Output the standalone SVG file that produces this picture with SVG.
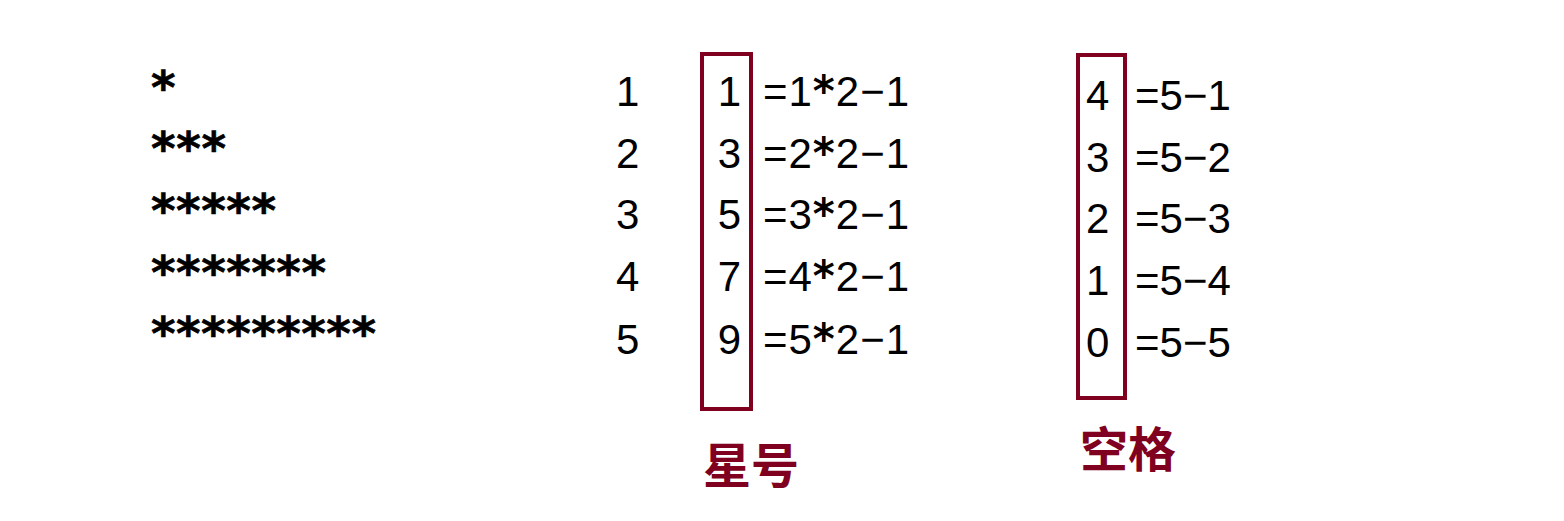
<svg xmlns="http://www.w3.org/2000/svg" width="1564" height="521" viewBox="0 0 1564 521">
<style>
.star{font-family:"DejaVu Sans",sans-serif;font-weight:bold;font-size:47px;fill:#000;stroke:#000;stroke-width:0.6}
.num{font-family:"Liberation Sans",Arial,sans-serif;font-size:42px;fill:#000}
.ast{font-family:"DejaVu Sans",sans-serif;font-weight:bold;font-size:42px}
.box{fill:none;stroke:#800020;stroke-width:4}
.lbl{font-family:"Noto Sans CJK SC",sans-serif;font-weight:bold;font-size:48px;fill:#800020}
</style>
<rect width="1564" height="521" fill="#fff"/>
<g id="stars">
<text class="star" x="151" y="104" textLength="25" lengthAdjust="spacing">*</text>
<text class="star" x="151" y="165" textLength="75" lengthAdjust="spacing">***</text>
<text class="star" x="151" y="227" textLength="125" lengthAdjust="spacing">*****</text>
<text class="star" x="151" y="289" textLength="175" lengthAdjust="spacing">*******</text>
<text class="star" x="151" y="350" textLength="225" lengthAdjust="spacing">*********</text>
</g>
<g id="rows">
<text class="num" x="616" y="106">1</text>
<text class="num" x="616" y="168">2</text>
<text class="num" x="616" y="229">3</text>
<text class="num" x="616" y="291">4</text>
<text class="num" x="616" y="354">5</text>
</g>
<g id="star-count">
<rect class="box" x="702" y="54" width="49" height="355"/>
<text class="num" x="741" y="106" text-anchor="end">1</text>
<text class="num" x="741" y="168" text-anchor="end">3</text>
<text class="num" x="741" y="229" text-anchor="end">5</text>
<text class="num" x="741" y="291" text-anchor="end">7</text>
<text class="num" x="741" y="354" text-anchor="end">9</text>
</g>
<g id="star-formula">
<text class="num" x="763" y="106" textLength="146" lengthAdjust="spacing">=1<tspan class="ast">*</tspan>2−1</text>
<text class="num" x="763" y="168" textLength="146" lengthAdjust="spacing">=2<tspan class="ast">*</tspan>2−1</text>
<text class="num" x="763" y="229" textLength="146" lengthAdjust="spacing">=3<tspan class="ast">*</tspan>2−1</text>
<text class="num" x="763" y="291" textLength="146" lengthAdjust="spacing">=4<tspan class="ast">*</tspan>2−1</text>
<text class="num" x="763" y="354" textLength="146" lengthAdjust="spacing">=5<tspan class="ast">*</tspan>2−1</text>
</g>
<g id="space-count">
<rect class="box" x="1078" y="55" width="47" height="343"/>
<text class="num" x="1086" y="110">4</text>
<text class="num" x="1086" y="172">3</text>
<text class="num" x="1086" y="233">2</text>
<text class="num" x="1086" y="295">1</text>
<text class="num" x="1086" y="357">0</text>
</g>
<g id="space-formula">
<text class="num" x="1135" y="110">=5−1</text>
<text class="num" x="1135" y="172">=5−2</text>
<text class="num" x="1135" y="233">=5−3</text>
<text class="num" x="1135" y="295">=5−4</text>
<text class="num" x="1135" y="357">=5−5</text>
</g>
<g id="labels">
<text class="lbl" x="703" y="483">星号</text>
<text class="lbl" x="1080" y="467">空格</text>
</g>
</svg>
